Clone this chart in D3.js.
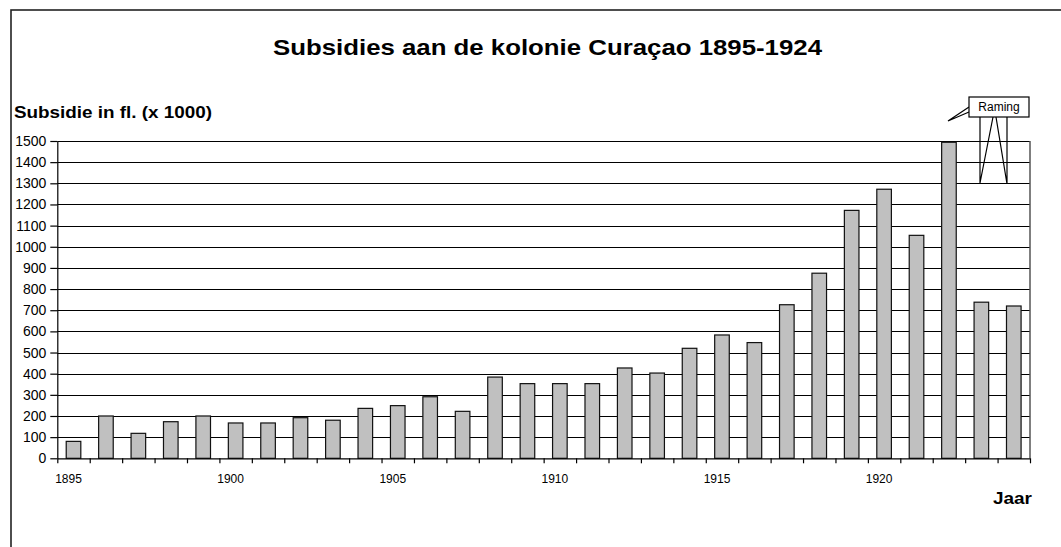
<!DOCTYPE html>
<html>
<head>
<meta charset="utf-8">
<script src="https://cdn.jsdelivr.net/npm/d3@7"></script>
<style>
  body { margin: 0; background: #fff; }
  svg { display: block; font-family: "Liberation Sans", Arial, sans-serif; }
</style>
</head>
<body>
<div id="chart"></div>
<script>
// Data
var years = d3.range(1895, 1925);
var subsidies = [80, 200, 118, 173, 200, 167, 167, 192, 180, 236,
                 249, 291, 222, 384, 353, 353, 353, 427, 403, 520,
                 583, 547, 726, 875, 1172, 1272, 1054, 1494, 738, 720];
var yTicks = d3.range(0, 1501, 100);
var labelYears = [1895, 1900, 1905, 1910, 1915, 1920];

var W = 1061, H = 547;
var plot = {left: 57.3, right: 1030, top: 141, bottom: 458.3};

var svg = d3.select("#chart")
  .append("svg")
    .attr("width", W)
    .attr("height", H);

// outer frame of the chart (runs off the right and bottom edge)
svg.append("rect")
  .attr("x", 11)
  .attr("y", 10)
  .attr("width", W + 20)
  .attr("height", H + 20)
  .attr("fill", "#fff")
  .attr("stroke", "#222")
  .attr("stroke-width", 1.6);

// title
svg.append("text")
  .attr("x", 273)
  .attr("y", 55)
  .attr("textLength", 549)
  .attr("lengthAdjust", "spacingAndGlyphs")
  .style("font-size", "22px")
  .style("font-weight", "bold")
  .text("Subsidies aan de kolonie Curaçao  1895-1924");

// y axis title
svg.append("text")
  .attr("x", 14)
  .attr("y", 118)
  .attr("textLength", 198)
  .attr("lengthAdjust", "spacingAndGlyphs")
  .style("font-size", "16px")
  .style("font-weight", "bold")
  .text("Subsidie in fl. (x 1000)");

// x axis title
svg.append("text")
  .attr("x", 993)
  .attr("y", 504)
  .attr("textLength", 39)
  .attr("lengthAdjust", "spacingAndGlyphs")
  .style("font-size", "16px")
  .style("font-weight", "bold")
  .text("Jaar");

// scales
var x = d3.scaleBand()
  .domain(years)
  .range([plot.left, plot.right])
  .paddingInner(0.55)
  .paddingOuter(0.275);

var y = d3.scaleLinear()
  .domain([0, 1500])
  .range([plot.bottom, plot.top]);

// category boundaries for the tick marks
var xb = d3.scaleLinear()
  .domain([0, years.length])
  .range([plot.left, plot.right]);

// gridlines
svg.append("g")
  .selectAll("line")
  .data(yTicks.filter(d => d > 0))
  .join("line")
    .attr("x1", plot.left)
    .attr("x2", plot.right)
    .attr("y1", d => Math.round(y(d)) + 0.5)
    .attr("y2", d => Math.round(y(d)) + 0.5)
    .attr("stroke", "#000")
    .attr("stroke-width", 1);

// right border of plot area
svg.append("line")
  .attr("x1", plot.right)
  .attr("x2", plot.right)
  .attr("y1", plot.top)
  .attr("y2", plot.bottom)
  .attr("stroke", "#555")
  .attr("stroke-width", 1.5);

// bars
svg.append("g")
  .selectAll("rect")
  .data(years.map((yr, i) => ({year: yr, value: subsidies[i]})))
  .join("rect")
    .attr("x", d => x(d.year))
    .attr("y", d => y(d.value))
    .attr("width", x.bandwidth())
    .attr("height", d => y(0) - y(d.value))
    .attr("fill", "#c0c0c0")
    .attr("stroke", "#111")
    .attr("stroke-width", 1.2);

// y axis
var yAxis = svg.append("g")
  .attr("transform", `translate(${plot.left},0)`)
  .call(d3.axisLeft(y).tickValues(yTicks).tickFormat(d3.format("d"))
    .tickSize(7).tickPadding(4).tickSizeOuter(0));
yAxis.selectAll("text").style("font-size", "14px").attr("fill", "#000");
yAxis.selectAll("line, path").attr("stroke", "#000").attr("stroke-width", 1.2);

// x axis: ticks on category boundaries
var xAxis = svg.append("g")
  .attr("transform", `translate(0,${plot.bottom})`)
  .call(d3.axisBottom(xb).ticks(years.length).tickSize(5).tickFormat("").tickSizeOuter(0));
xAxis.selectAll("line, path").attr("stroke", "#000").attr("stroke-width", 1.2);

// x labels every five years
svg.append("g")
  .selectAll("text")
  .data(labelYears)
  .join("text")
    .attr("x", d => x(d) + x.bandwidth() / 2 - 5)
    .attr("y", 483)
    .attr("text-anchor", "middle")
    .style("font-size", "12px")
    .text(d => d);

// "Raming" callout
var callout = svg.append("g")
  .attr("fill", "none")
  .attr("stroke", "#000")
  .attr("stroke-width", 1.2);

callout.append("polyline")
  .attr("points", "980,117 980,183 993,117");
callout.append("polyline")
  .attr("points", "996,117 1007,184 1007,117");
callout.append("polyline")
  .attr("points", "969,107 948,121 969,112");

svg.append("rect")
  .attr("x", 969)
  .attr("y", 97)
  .attr("width", 60)
  .attr("height", 20)
  .attr("fill", "#fff")
  .attr("stroke", "#000")
  .attr("stroke-width", 1.2);

svg.append("text")
  .attr("x", 999)
  .attr("y", 111)
  .attr("text-anchor", "middle")
  .style("font-size", "12px")
  .text("Raming");
</script>
</body>
</html>
